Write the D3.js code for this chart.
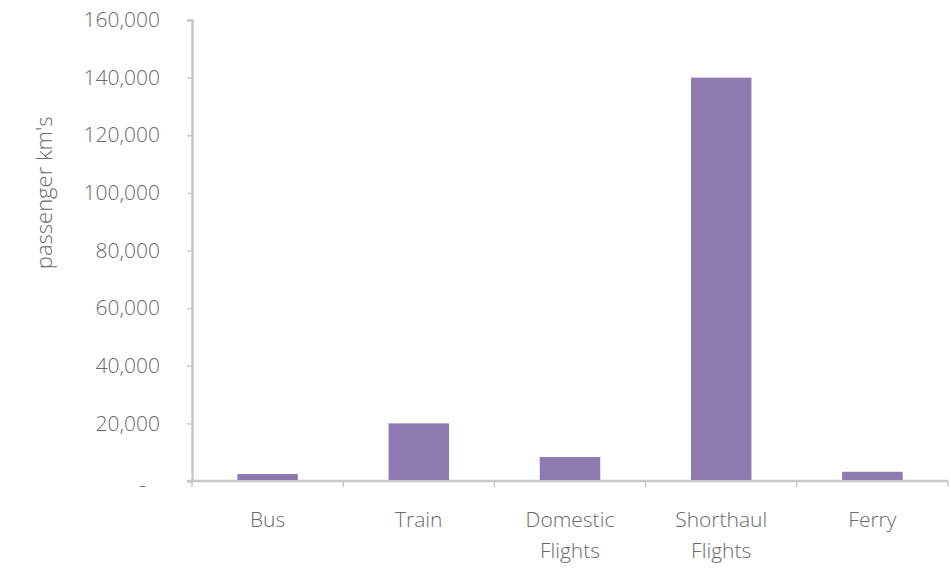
<!DOCTYPE html>
<html>
<head>
<meta charset="utf-8">
<script src="https://cdn.jsdelivr.net/npm/d3@7"></script>
<style>
  body { margin: 0; background: #fff; }
  svg text { font-family: "Open Sans", Lato, sans-serif; font-weight: 300; fill: #6a6a6a; }
</style>
</head>
<body>
<svg id="chart" width="951" height="569"></svg>
<script>
// 値は画像から読み取った概算
const categories = ['Bus', 'Train', 'Domestic\nFlights', 'Shorthaul\nFlights', 'Ferry'];
const values = [2400, 20000, 8300, 140000, 3200];
const yTicks = [0, 20000, 40000, 60000, 80000, 100000, 120000, 140000, 160000];
const yLabel = "passenger km's";

const svg = d3.select('#chart');
const margin = { top: 20, right: 3, bottom: 88, left: 192 };
const width = 951 - margin.left - margin.right;
const height = 569 - margin.top - margin.bottom;

const g = svg.append('g').attr('transform', `translate(${margin.left},${margin.top})`);

const x = d3.scaleBand()
  .domain(categories)
  .range([0, width])
  .paddingInner(0.6)
  .paddingOuter(0.3);

const y = d3.scaleLinear().domain([0, 160000]).range([height, 0]);

const fmt = d => d === 0 ? '-' : d3.format(',')(d);

// y軸
const yAxis = g.append('g')
  .call(d3.axisLeft(y).tickValues(yTicks).tickFormat(fmt).tickSize(5).tickPadding(27));
yAxis.select('.domain').attr('stroke', '#c8c8c8').attr('stroke-width', 2.5);
yAxis.selectAll('.tick line').attr('stroke', '#c8c8c8').attr('stroke-width', 1.5);
yAxis.selectAll('.tick text').style('font-size', '21px').attr('fill', '#6a6a6a');
// Excelの会計書式では0の「-」が少し左に寄る
yAxis.selectAll('.tick text').filter(d => d === 0).attr('dx', -14).attr('dy', '0.5em');

// x軸: 目盛りはカテゴリの境界に置く
const xAxis = g.append('g').attr('transform', `translate(0,${height})`);
xAxis.append('line')
  .attr('x1', -5).attr('x2', width)
  .attr('stroke', '#c8c8c8').attr('stroke-width', 2.5);
const bounds = d3.range(categories.length + 1).map(i => i * x.step());
xAxis.selectAll('line.tick').data(bounds).join('line')
  .attr('class', 'tick')
  .attr('x1', d => d).attr('x2', d => d)
  .attr('y1', 0).attr('y2', 6)
  .attr('stroke', '#c8c8c8').attr('stroke-width', 1.5);

const labels = xAxis.selectAll('text.cat').data(categories).join('text')
  .attr('class', 'cat')
  .attr('x', d => x(d) + x.bandwidth() / 2)
  .attr('y', 46)
  .attr('text-anchor', 'middle')
  .style('font-size', '21px');
labels.each(function (d) {
  const t = d3.select(this);
  d.split('\n').forEach((line, i) => {
    t.append('tspan')
      .attr('x', x(d) + x.bandwidth() / 2)
      .attr('dy', i === 0 ? 0 : 31)
      .text(line);
  });
});

// 棒
g.selectAll('rect.bar').data(values).join('rect')
  .attr('class', 'bar')
  .attr('x', (d, i) => x(categories[i]))
  .attr('width', x.bandwidth())
  .attr('y', d => y(d))
  .attr('height', d => height - y(d) - 1)
  .attr('fill', '#8e79b0');

// 軸タイトル
svg.append('text')
  .attr('transform', `translate(52,${margin.top + y(100000)}) rotate(-90)`)
  .attr('text-anchor', 'middle')
  .style('font-size', '22px')
  .text(yLabel);
</script>
</body>
</html>
